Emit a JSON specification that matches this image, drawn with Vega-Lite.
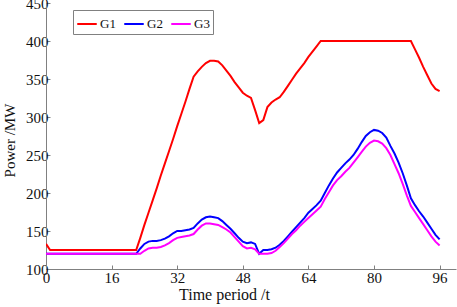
{
  "$schema": "https://vega.github.io/schema/vega-lite/v6.json",
  "width": 410,
  "height": 266,
  "autosize": "none",
  "padding": {"left": 46, "top": 3, "right": 1, "bottom": 38},
  "background": "white",
  "config": {"view": {"stroke": null}, "font": "Liberation Serif"},
  "data": {"values": [
    {"t":0,"s":"G1","p":133},{"t":1,"s":"G1","p":125},{"t":22,"s":"G1","p":125},{"t":23,"s":"G1","p":141},{"t":24,"s":"G1","p":158},{"t":25,"s":"G1","p":174},{"t":26,"s":"G1","p":190},{"t":27,"s":"G1","p":206},{"t":28,"s":"G1","p":223},{"t":29,"s":"G1","p":239},{"t":30,"s":"G1","p":255},{"t":31,"s":"G1","p":271},{"t":32,"s":"G1","p":288},{"t":33,"s":"G1","p":304},{"t":34,"s":"G1","p":320},{"t":35,"s":"G1","p":337},{"t":36,"s":"G1","p":353},{"t":37,"s":"G1","p":360},{"t":38,"s":"G1","p":366},{"t":39,"s":"G1","p":371},{"t":40,"s":"G1","p":374},{"t":41,"s":"G1","p":374},{"t":42,"s":"G1","p":373},{"t":43,"s":"G1","p":368},{"t":44,"s":"G1","p":361},{"t":45,"s":"G1","p":354},{"t":46,"s":"G1","p":346},{"t":47,"s":"G1","p":339},{"t":48,"s":"G1","p":332},{"t":49,"s":"G1","p":328},{"t":50,"s":"G1","p":325},{"t":51,"s":"G1","p":309},{"t":52,"s":"G1","p":292},{"t":53,"s":"G1","p":296},{"t":54,"s":"G1","p":313},{"t":55,"s":"G1","p":319},{"t":56,"s":"G1","p":323},{"t":57,"s":"G1","p":326},{"t":58,"s":"G1","p":333},{"t":59,"s":"G1","p":341},{"t":60,"s":"G1","p":349},{"t":61,"s":"G1","p":357},{"t":62,"s":"G1","p":364},{"t":63,"s":"G1","p":371},{"t":64,"s":"G1","p":379},{"t":65,"s":"G1","p":386},{"t":66,"s":"G1","p":393},{"t":67,"s":"G1","p":400},{"t":89,"s":"G1","p":400},{"t":90,"s":"G1","p":389},{"t":91,"s":"G1","p":378},{"t":92,"s":"G1","p":366},{"t":93,"s":"G1","p":355},{"t":94,"s":"G1","p":344},{"t":95,"s":"G1","p":337},{"t":96,"s":"G1","p":334},
    {"t":0,"s":"G2","p":120},{"t":22,"s":"G2","p":120},{"t":23,"s":"G2","p":127},{"t":24,"s":"G2","p":133},{"t":25,"s":"G2","p":136},{"t":26,"s":"G2","p":137},{"t":27,"s":"G2","p":137},{"t":28,"s":"G2","p":138},{"t":29,"s":"G2","p":140},{"t":30,"s":"G2","p":143},{"t":31,"s":"G2","p":147},{"t":32,"s":"G2","p":150},{"t":33,"s":"G2","p":150},{"t":34,"s":"G2","p":151},{"t":35,"s":"G2","p":152},{"t":36,"s":"G2","p":154},{"t":37,"s":"G2","p":160},{"t":38,"s":"G2","p":165},{"t":39,"s":"G2","p":168},{"t":40,"s":"G2","p":169},{"t":41,"s":"G2","p":168},{"t":42,"s":"G2","p":167},{"t":43,"s":"G2","p":163},{"t":44,"s":"G2","p":158},{"t":45,"s":"G2","p":153},{"t":46,"s":"G2","p":147},{"t":47,"s":"G2","p":141},{"t":48,"s":"G2","p":136},{"t":49,"s":"G2","p":134},{"t":50,"s":"G2","p":135},{"t":51,"s":"G2","p":133},{"t":52,"s":"G2","p":120},{"t":53,"s":"G2","p":125},{"t":54,"s":"G2","p":125},{"t":55,"s":"G2","p":126},{"t":56,"s":"G2","p":128},{"t":57,"s":"G2","p":132},{"t":58,"s":"G2","p":137},{"t":59,"s":"G2","p":143},{"t":60,"s":"G2","p":149},{"t":61,"s":"G2","p":155},{"t":62,"s":"G2","p":161},{"t":63,"s":"G2","p":167},{"t":64,"s":"G2","p":174},{"t":65,"s":"G2","p":179},{"t":66,"s":"G2","p":184},{"t":67,"s":"G2","p":190},{"t":68,"s":"G2","p":200},{"t":69,"s":"G2","p":210},{"t":70,"s":"G2","p":219},{"t":71,"s":"G2","p":227},{"t":72,"s":"G2","p":233},{"t":73,"s":"G2","p":239},{"t":74,"s":"G2","p":244},{"t":75,"s":"G2","p":250},{"t":76,"s":"G2","p":258},{"t":77,"s":"G2","p":267},{"t":78,"s":"G2","p":275},{"t":79,"s":"G2","p":280},{"t":80,"s":"G2","p":283},{"t":81,"s":"G2","p":282},{"t":82,"s":"G2","p":279},{"t":83,"s":"G2","p":273},{"t":84,"s":"G2","p":262},{"t":85,"s":"G2","p":252},{"t":86,"s":"G2","p":240},{"t":87,"s":"G2","p":226},{"t":88,"s":"G2","p":210},{"t":89,"s":"G2","p":193},{"t":90,"s":"G2","p":184},{"t":91,"s":"G2","p":176},{"t":92,"s":"G2","p":169},{"t":93,"s":"G2","p":161},{"t":94,"s":"G2","p":153},{"t":95,"s":"G2","p":145},{"t":96,"s":"G2","p":139},
    {"t":0,"s":"G3","p":120},{"t":23,"s":"G3","p":120},{"t":24,"s":"G3","p":124},{"t":25,"s":"G3","p":127},{"t":26,"s":"G3","p":128},{"t":27,"s":"G3","p":128},{"t":28,"s":"G3","p":129},{"t":29,"s":"G3","p":131},{"t":30,"s":"G3","p":134},{"t":31,"s":"G3","p":138},{"t":32,"s":"G3","p":141},{"t":33,"s":"G3","p":142},{"t":34,"s":"G3","p":143},{"t":35,"s":"G3","p":144},{"t":36,"s":"G3","p":146},{"t":37,"s":"G3","p":152},{"t":38,"s":"G3","p":157},{"t":39,"s":"G3","p":160},{"t":40,"s":"G3","p":160},{"t":41,"s":"G3","p":159},{"t":42,"s":"G3","p":158},{"t":43,"s":"G3","p":155},{"t":44,"s":"G3","p":152},{"t":45,"s":"G3","p":148},{"t":46,"s":"G3","p":142},{"t":47,"s":"G3","p":136},{"t":48,"s":"G3","p":130},{"t":49,"s":"G3","p":127},{"t":50,"s":"G3","p":128},{"t":51,"s":"G3","p":126},{"t":52,"s":"G3","p":120},{"t":54,"s":"G3","p":120},{"t":55,"s":"G3","p":121},{"t":56,"s":"G3","p":124},{"t":57,"s":"G3","p":129},{"t":58,"s":"G3","p":134},{"t":59,"s":"G3","p":140},{"t":60,"s":"G3","p":146},{"t":61,"s":"G3","p":151},{"t":62,"s":"G3","p":157},{"t":63,"s":"G3","p":162},{"t":64,"s":"G3","p":167},{"t":65,"s":"G3","p":172},{"t":66,"s":"G3","p":177},{"t":67,"s":"G3","p":182},{"t":68,"s":"G3","p":192},{"t":69,"s":"G3","p":201},{"t":70,"s":"G3","p":210},{"t":71,"s":"G3","p":217},{"t":72,"s":"G3","p":222},{"t":73,"s":"G3","p":228},{"t":74,"s":"G3","p":233},{"t":75,"s":"G3","p":240},{"t":76,"s":"G3","p":247},{"t":77,"s":"G3","p":254},{"t":78,"s":"G3","p":261},{"t":79,"s":"G3","p":266},{"t":80,"s":"G3","p":269},{"t":81,"s":"G3","p":268},{"t":82,"s":"G3","p":265},{"t":83,"s":"G3","p":259},{"t":84,"s":"G3","p":250},{"t":85,"s":"G3","p":238},{"t":86,"s":"G3","p":226},{"t":87,"s":"G3","p":212},{"t":88,"s":"G3","p":197},{"t":89,"s":"G3","p":183},{"t":90,"s":"G3","p":175},{"t":91,"s":"G3","p":167},{"t":92,"s":"G3","p":159},{"t":93,"s":"G3","p":151},{"t":94,"s":"G3","p":143},{"t":95,"s":"G3","p":136},{"t":96,"s":"G3","p":131}
  ]},
  "mark": {"type": "line", "strokeWidth": 2, "clip": true},
  "encoding": {
    "x": {
      "field": "t", "type": "quantitative",
      "scale": {"domain": [0, 100], "nice": false, "zero": false},
      "axis": {
        "values": [0, 16, 32, 48, 64, 80, 96],
        "grid": false,
        "title": "Time period /t",
        "titleFont": "Liberation Serif", "titleFontSize": 16, "titleFontWeight": "normal", "titleColor": "#111",
        "titleX": 178, "titleY": 30, "titleBaseline": "alphabetic", "titleAlign": "center", "titleAnchor": null,
        "labelFont": "Liberation Serif", "labelFontSize": 15, "labelColor": "#111",
        "labelBaseline": "alphabetic", "labelPadding": 17,
        "domainColor": "#808080", "tickColor": "#808080", "tickSize": -4,
        "labelFlush": false, "labelOverlap": false
      }
    },
    "y": {
      "field": "p", "type": "quantitative",
      "scale": {"domain": [100, 450], "nice": false, "zero": false},
      "axis": {
        "values": [100, 150, 200, 250, 300, 350, 400, 450],
        "grid": false,
        "title": "Power /MW",
        "titleFont": "Liberation Serif", "titleFontSize": 15, "titleFontWeight": "normal", "titleColor": "#111",
        "titleX": -32, "titleY": 137, "titleBaseline": "alphabetic", "titleAlign": "center", "titleAnchor": null, "titleAngle": -90,
        "labelFont": "Liberation Serif", "labelFontSize": 15, "labelColor": "#111",
        "labelPadding": 2,
        "domainColor": "#808080", "tickColor": "#808080", "tickSize": -4,
        "labelFlush": false, "labelOverlap": false
      }
    },
    "color": {
      "field": "s", "type": "nominal",
      "scale": {"domain": ["G1", "G2", "G3"], "range": ["#ff0000", "#0000ff", "#ff00ff"]},
      "legend": {
        "title": null, "orient": "none", "legendX": 27, "legendY": 7,
        "direction": "horizontal",
        "symbolType": "stroke", "symbolSize": 380, "symbolStrokeWidth": 2,
        "labelFont": "Liberation Serif", "labelFontSize": 13, "labelColor": "#111",
        "labelOffset": 2, "columnPadding": 4,
        "padding": 3, "strokeColor": "#808080", "fillColor": "white"
      }
    }
  }
}
